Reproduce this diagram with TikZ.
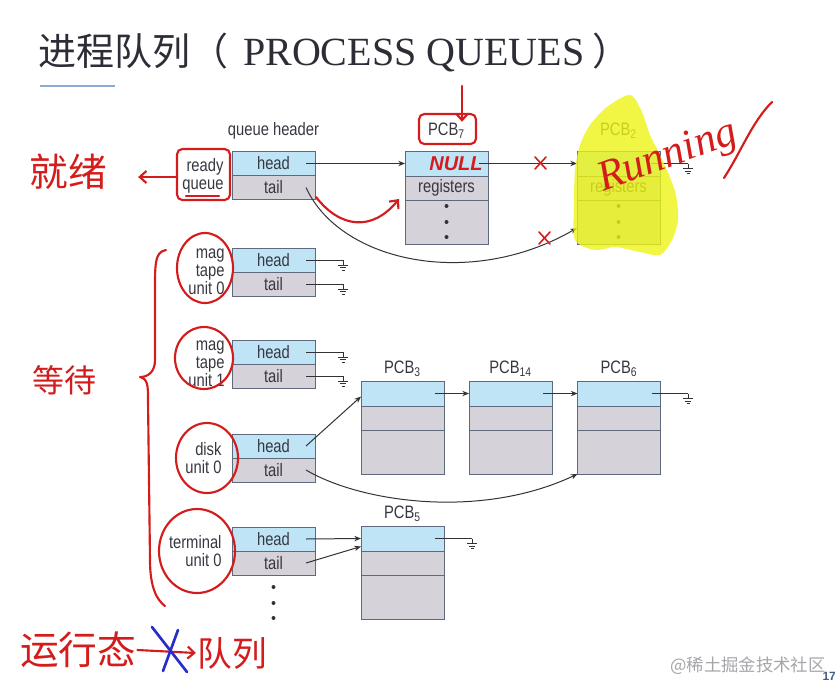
\documentclass[tikz,border=0pt]{standalone}
\usepackage{fontspec}
\setmainfont{Liberation Serif}
\newfontfamily\cjk{Noto Sans CJK SC}
\newfontfamily\labelfont{Liberation Sans}[FakeStretch=0.82]
\newfontfamily\handsans{Liberation Sans}
\usetikzlibrary{arrows.meta,positioning,calc}

\definecolor{headfill}{RGB}{191,228,246}
\definecolor{tailfill}{RGB}{213,210,217}
\definecolor{boxline}{RGB}{95,105,125}
\definecolor{labtext}{RGB}{55,55,65}
\definecolor{wire}{RGB}{50,50,55}
\definecolor{redpen}{RGB}{212,28,28}
\definecolor{bluepen}{RGB}{40,45,200}
\definecolor{hilite}{RGB}{236,244,20}
\definecolor{titleline}{RGB}{140,170,205}

\newcommand{\pcb}[1]{PCB\textsubscript{#1}}

\tikzset{every picture/.style={line width=0.75pt}}
\tikzset{
  lab/.style={font=\labelfont\fontsize{13.5}{13.5}\selectfont, text=labtext, inner sep=0.75pt},
  qhead/.style={lab, draw=boxline, fill=headfill, minimum width=62.25pt, minimum height=18pt, outer sep=0pt, inner sep=0pt},
  qtail/.style={qhead, fill=tailfill},
  pcbtop/.style={qhead, minimum height=18.75pt},
  pcbbot/.style={qtail, minimum height=33pt},
  link/.style={draw=wire, -{Stealth[length=5pt,width=4pt]}},
  redpen/.style={draw=redpen, line width=1.6pt, line cap=round, line join=round},
  redtext/.style={text=redpen, inner sep=0.75pt},
  gnd/.pic={\draw[wire] (0,0) -- (0,-5) (-5,-5) -- (5,-5) (-3.3,-7.5) -- (3.3,-7.5) (-1.5,-10) -- (1.5,-10);}
}

\begin{document}
\begin{tikzpicture}[x=0.75pt,y=0.75pt,yscale=-1,xscale=1]
\useasboundingbox (0,0) rectangle (835,682);

% Title
\node[anchor=west, inner sep=0pt, text={rgb,255:red,45;green,45;blue,55}] (title) at (38,52)
  {\cjk\fontsize{28.5}{28.5}\selectfont 进程队列（\hspace{11pt}\rmfamily\fontsize{30}{30}\selectfont PROCESS QUEUES\hspace{6pt}\cjk\fontsize{28.5}{28.5}\selectfont ）};
\draw[titleline, line width=1.5pt] (40,86) -- (115,86);

% Text Node
\node[lab] (qh) at (273.5,131) {queue header};

%Shape: queue headers
\node[qhead] (rh) at (273.5,163.5) {head};
\node[qtail, below=0pt of rh] (rt) {tail};
\node[qhead] (m0h) at (273.5,260) {head};
\node[qtail, below=0pt of m0h] (m0t) {tail};
\node[qhead] (m1h) at (273.5,352) {head};
\node[qtail, below=0pt of m1h] (m1t) {tail};
\node[qhead] (dh) at (273.5,446) {head};
\node[qtail, below=0pt of dh] (dt) {tail};
\node[qhead] (th) at (273.5,539) {head};
\node[qtail, below=0pt of th] (tt) {tail};

% Text Node
\node[lab, anchor=east, align=right] (rql) at (225,176) {ready\\queue};
\node[lab, anchor=east, align=right] (m0l) at (226,272) {mag\\tape\\unit 0};
\node[lab, anchor=east, align=right] (m1l) at (226,364) {mag\\tape\\unit 1};
\node[lab, anchor=east, align=right] (dl) at (223,458) {disk\\unit 0};
\node[lab, anchor=east, align=right] (tl) at (223,551) {terminal\\unit 0};

%Shape: PCBs
\node[pcbtop] (p7a) at (446.5,163.5) {};
\node[qtail, below=0pt of p7a] (p7b) {registers};
\node[pcbbot, below=0pt of p7b] (p7c) {};
\node[pcbtop] (p2a) at (618.5,163.5) {};
\node[qtail, below=0pt of p2a] (p2b) {registers};
\node[pcbbot, below=0pt of p2b] (p2c) {};
\node[pcbtop] (p3a) at (402.5,393.5) {};
\node[qtail, below=0pt of p3a] (p3b) {};
\node[pcbbot, below=0pt of p3b] (p3c) {};
\node[pcbtop] (p14a) at (510.5,393.5) {};
\node[qtail, below=0pt of p14a] (p14b) {};
\node[pcbbot, below=0pt of p14b] (p14c) {};
\node[pcbtop] (p6a) at (619,393.5) {};
\node[qtail, below=0pt of p6a] (p6b) {};
\node[pcbbot, below=0pt of p6b] (p6c) {};
\node[pcbtop] (p5a) at (402.5,538.5) {};
\node[qtail, below=0pt of p5a] (p5b) {};
\node[pcbbot, below=0pt of p5b] (p5c) {};

% Text Node
\node[lab] (l7) at (446.5,131) {\pcb{7}};
\node[lab] (l2) at (618.5,131) {\pcb{2}};
\node[lab] (l3) at (402.5,369) {\pcb{3}};
\node[lab] (l14) at (510.5,369) {\pcb{14}};
\node[lab] (l6) at (619,369) {\pcb{6}};
\node[lab] (l5) at (402.5,514) {\pcb{5}};

% dots
\foreach \n in {p7c,p2c} {
  \foreach \dy in {6,22,37} \fill[wire] (\n.north) ++(0,\dy) circle (2);
}
\foreach \dy in {12,28,43} \fill[wire] (tt.south) ++(0,\dy) circle (2);

% ground ends
\coordinate (g2) at (688,163.5);
\coordinate (g01) at (343,260);
\coordinate (g02) at (343,284);
\coordinate (g11) at (343,352);
\coordinate (g12) at (343,376);
\coordinate (g6) at (688,393.5);
\coordinate (g5) at (472,538.5);

%Straight Lines
\draw[link] ($(rh.east)+(-9,0)$) -- (p7a.west);
\draw[link] ($(p7a.east)+(-9,0)$) -- (p2a.west);
\draw[wire] ($(p2a.east)+(-9,0)$) -- (g2) pic{gnd};
\draw[wire] ($(m0h.east)+(-9,0)$) -- (g01) pic{gnd};
\draw[wire] ($(m0t.east)+(-9,0)$) -- (g02) pic{gnd};
\draw[wire] ($(m1h.east)+(-9,0)$) -- (g11) pic{gnd};
\draw[wire] ($(m1t.east)+(-9,0)$) -- (g12) pic{gnd};
\draw[link] ($(dh.east)+(-9,0)$) -- ($(p3a.west)+(0,3)$);
\draw[link] ($(p3a.east)+(-9,0)$) -- (p14a.west);
\draw[link] ($(p14a.east)+(-9,0)$) -- (p6a.west);
\draw[wire] ($(p6a.east)+(-9,0)$) -- (g6) pic{gnd};
\draw[link] ($(th.east)+(-9,0)$) -- (p5a.west);
\draw[link] ($(tt.east)+(-9,0)$) -- ($(p5a.west)+(0,8)$);
\draw[wire] ($(p5a.east)+(-9,0)$) -- (g5) pic{gnd};

%Curve Lines
\draw[link] ($(rt.east)+(-9,0)$) .. controls (340,262) and (470,290) .. ($(p2c.west)+(0,6)$);
\draw[link] ($(dt.east)+(-9,0)$) .. controls (360,502) and (480,520) .. (p6c.south west);

%Shape: highlight
\fill[hilite, fill opacity=0.8] plot[smooth cycle] coordinates {(630,95) (607,107) (590,125) (580,145) (575,170) (574,205) (575,240) (595,250) (615,247) (640,252) (660,255) (672,240) (678,220) (676,195) (669,175) (660,155) (650,135) (642,112)};

% handwritten notes
\node[redtext, font=\cjk\fontsize{29}{29}\selectfont] (ready) at (68,172) {就绪};
\draw[redpen, -{Straight Barb[length=5pt,width=9pt]}] ($(rql.west)+(-5,1)$) -- ($(ready.east)+(30,5)$);
\draw[redpen, rounded corners=4] (177,149) rectangle (230,200);
\draw[redpen] (186,196) -- (219,196);
\draw[redpen, rounded corners=4] (419,114) rectangle (476,144);
\draw[redpen, -{Straight Barb[length=5pt,width=9pt]}] (462,86) -- (l7.north -| 462,0);
\node[redtext, font=\handsans\bfseries\itshape\fontsize{15}{15}\selectfont] (null) at (456,164) {NULL};
\draw[redpen, -{Straight Barb[length=5pt,width=9pt]}] (316,197) .. controls (340,228) and (372,232) .. (399,199);
\draw[redpen, line width=1.2pt] (535,157) -- (546,169) (535,169) -- (546,157);
\draw[redpen, line width=1.2pt] (539,232) -- (550,244) (539,244) -- (550,232);
\node[redtext, font=\itshape\fontsize{32}{32}\selectfont, rotate=20] (run) at (668,158) {Running};
\draw[redpen] (724,178) .. controls (742,150) and (752,122) .. (772,102);

%Shape: Ellipse
\draw[redpen] (205,268) ellipse (28 and 35);
\draw[redpen] (204,358) ellipse (29 and 31);
\draw[redpen] (207,458) ellipse (31 and 35);
\draw[redpen] (197,551) ellipse (38 and 42);

% brace
\draw[redpen] (166,250) .. controls (154,252) and (155,265) .. (155,300) -- (155,360)
  .. controls (155,372) and (148,377) .. (140,377) .. controls (148,379) and (148,386) .. (148,400)
  -- (150,560) .. controls (150,588) and (157,600) .. (165,606);
\node[redtext, font=\cjk\fontsize{24}{24}\selectfont] (wait) at (64,380) {等待};

\node[redtext, font=\cjk\fontsize{29}{29}\selectfont] (runst) at (78,650) {运行态};
\node[redtext, font=\cjk\fontsize{26}{26}\selectfont] (queue) at (232,653) {队列};
\draw[redpen, -{Straight Barb[length=5pt,width=9pt]}] (runst.east) -- (queue.west);
\draw[bluepen, line width=2pt, line cap=round] (152,627) -- (187,672) (178,630) -- (163,671);

% watermark
\node[anchor=east, inner sep=0pt, text={rgb,255:red,165;green,165;blue,170}, font=\cjk\fontsize{13}{13}\selectfont] (wm) at (826,666) {@稀土掘金技术社区};
\node[anchor=west, inner sep=0pt, text={rgb,255:red,70;green,90;blue,130}, font=\handsans\bfseries\fontsize{9}{9}\selectfont] (pg) at (822,676) {17};

\end{tikzpicture}
\end{document}
